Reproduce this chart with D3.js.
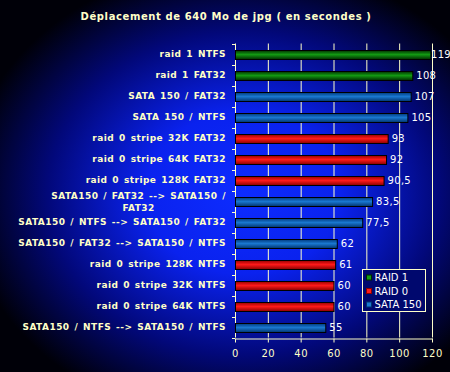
<!DOCTYPE html>
<html>
<head>
<meta charset="utf-8">
<script src="https://cdn.jsdelivr.net/npm/d3@7"></script>
<style>
  html, body { margin: 0; padding: 0; background: #000; }
  svg { display: block; }
  text { font-family: "DejaVu Sans", Verdana, sans-serif; }
</style>
</head>
<body>
<div id="chart"></div>
<script>
// data
const categories = [
  'raid 1 NTFS',
  'raid 1 FAT32',
  'SATA 150 / FAT32',
  'SATA 150 / NTFS',
  'raid 0 stripe 32K FAT32',
  'raid 0 stripe 64K FAT32',
  'raid 0 stripe 128K FAT32',
  'SATA150 / FAT32 --> SATA150 / FAT32',
  'SATA150 / NTFS --> SATA150 / FAT32',
  'SATA150 / FAT32 --> SATA150 / NTFS',
  'raid 0 stripe 128K NTFS',
  'raid 0 stripe 32K NTFS',
  'raid 0 stripe 64K NTFS',
  'SATA150 / NTFS --> SATA150 / NTFS'
];
const values = [119, 108, 107, 105, 93, 92, 90.5, 83.5, 77.5, 62, 61, 60, 60, 55];
const groups = ['RAID 1', 'RAID 1', 'SATA 150', 'SATA 150', 'RAID 0', 'RAID 0', 'RAID 0',
  'SATA 150', 'SATA 150', 'SATA 150', 'RAID 0', 'RAID 0', 'RAID 0', 'SATA 150'];
const legendNames = ['RAID 1', 'RAID 0', 'SATA 150'];
const xTicks = [0, 20, 40, 60, 80, 100, 120];

const W = 450, H = 372;
const margin = { top: 43.5, right: 18, bottom: 34.5, left: 235 };
const cream = '#ffffc8';

// two-line label for the one that wraps
const wrapped = { 'SATA150 / FAT32 --> SATA150 / FAT32': ['SATA150 / FAT32 --> SATA150 /', 'FAT32'] };

const colors = {
  'RAID 1': ['#003300', '#139a13', '#002a00'],
  'RAID 0': ['#990000', '#ff1a1a', '#880000'],
  'SATA 150': ['#003a80', '#1a78d0', '#00336e']
};

const svg = d3.select('#chart').append('svg')
  .attr('width', W).attr('height', H);

const defs = svg.append('defs');
const bg = defs.append('radialGradient').attr('id', 'bg')
  .attr('cx', '0.54').attr('cy', '0.52').attr('r', '0.62');
bg.append('stop').attr('offset', '0%').attr('stop-color', '#0d2cff');
bg.append('stop').attr('offset', '35%').attr('stop-color', '#0a22ee');
bg.append('stop').attr('offset', '70%').attr('stop-color', '#02087a');
bg.append('stop').attr('offset', '100%').attr('stop-color', '#000008');

legendNames.forEach((g, i) => {
  const lg = defs.append('linearGradient').attr('id', 'bar' + i)
    .attr('x1', 0).attr('y1', 0).attr('x2', 0).attr('y2', 1);
  lg.append('stop').attr('offset', '0%').attr('stop-color', colors[g][0]);
  lg.append('stop').attr('offset', '45%').attr('stop-color', colors[g][1]);
  lg.append('stop').attr('offset', '100%').attr('stop-color', colors[g][2]);
});

svg.append('rect').attr('width', W).attr('height', H).attr('fill', 'url(#bg)');

// title
svg.append('text')
  .attr('x', W / 2 + 1).attr('y', 20)
  .attr('text-anchor', 'middle')
  .attr('font-size', 10).attr('font-weight', 'bold')
  .attr('letter-spacing', 0.6)
  .attr('fill', cream)
  .text('Déplacement de 640 Mo de jpg ( en secondes )');

const x = d3.scaleLinear().domain([0, 120]).range([margin.left, W - margin.right]);
const y = d3.scaleBand().domain(categories).range([margin.top, H - margin.bottom]).padding(0);

// vertical grid lines
svg.append('g').selectAll('line')
  .data(xTicks.slice(1))
  .enter().append('line')
  .attr('x1', d => x(d) + 0.5).attr('x2', d => x(d) + 0.5)
  .attr('y1', margin.top).attr('y2', H - margin.bottom)
  .attr('stroke', cream).attr('stroke-width', 1);

// x axis
const xAxis = svg.append('g')
  .attr('transform', `translate(0,${Math.round(H - margin.bottom) + 0.5})`)
  .call(d3.axisBottom(x).tickValues(xTicks).tickSize(4).tickSizeOuter(0));
xAxis.select('.domain').attr('stroke', cream);
xAxis.selectAll('.tick line').attr('stroke', cream);
xAxis.selectAll('.tick text')
  .attr('fill', cream).attr('font-size', 10)
  .attr('letter-spacing', 0.5)
  .attr('font-family', '"DejaVu Sans", Verdana, sans-serif')
  .attr('dy', '1.15em');

// y axis line + ticks at band edges
const yEdges = categories.map(c => y(c)).concat([y.range()[1]]);
svg.append('line')
  .attr('x1', margin.left + 0.5).attr('x2', margin.left + 0.5)
  .attr('y1', margin.top).attr('y2', H - margin.bottom)
  .attr('stroke', cream);
svg.append('g').selectAll('line')
  .data(yEdges)
  .enter().append('line')
  .attr('x1', margin.left - 3).attr('x2', margin.left)
  .attr('y1', d => Math.round(d) + 0.5).attr('y2', d => Math.round(d) + 0.5)
  .attr('stroke', cream);

// category labels
const labelX = margin.left - 9;
svg.append('g').selectAll('text')
  .data(categories)
  .enter().append('text')
  .attr('font-size', 9).attr('font-weight', 'bold')
  .attr('letter-spacing', 0.45)
  .attr('word-spacing', 1.3)
  .attr('fill', cream)
  .attr('text-anchor', 'end')
  .attr('x', labelX)
  .attr('y', d => y(d) + y.bandwidth() / 2)
  .attr('dy', '0.35em')
  .each(function (d) {
    const t = d3.select(this);
    if (wrapped[d]) {
      t.attr('dy', null);
      const first = t.append('tspan').attr('x', labelX)
        .attr('y', y(d) + y.bandwidth() / 2 - 2).text(wrapped[d][0]);
      const w1 = first.node().getComputedTextLength();
      const w2 = t.append('tspan').text(wrapped[d][1]);
      const w2len = w2.node().getComputedTextLength();
      w2.attr('x', labelX - w1 / 2 + w2len / 2)
        .attr('y', y(d) + y.bandwidth() / 2 + 10);
    } else {
      t.text(d);
    }
  });

// bars
const barH = 9;
svg.append('g').selectAll('rect')
  .data(categories)
  .enter().append('rect')
  .attr('x', x(0) + 0.5)
  .attr('y', d => Math.round(y(d) + (y.bandwidth() - barH) / 2) + 0.5)
  .attr('width', (d, i) => x(values[i]) - x(0))
  .attr('height', barH)
  .attr('fill', (d, i) => 'url(#bar' + legendNames.indexOf(groups[i]) + ')')
  .attr('stroke', '#000')
  .attr('stroke-width', 1);

// value labels
const fmt = v => String(v).replace('.', ',');
svg.append('g').selectAll('text')
  .data(categories)
  .enter().append('text')
  .attr('x', (d, i) => Math.min(x(values[i]) + 4, 431))
  .attr('y', d => y(d) + y.bandwidth() / 2)
  .attr('dy', '0.35em')
  .attr('font-size', 10)
  .attr('letter-spacing', 0.3)
  .attr('fill', '#ffffff')
  .text((d, i) => fmt(values[i]));

// legend
const legend = svg.append('g').attr('transform', 'translate(362.5,269.5)');
legend.append('rect')
  .attr('width', 63).attr('height', 42)
  .attr('fill', '#00086e')
  .attr('stroke', cream);
legendNames.forEach((g, i) => {
  const row = legend.append('g').attr('transform', `translate(0,${8 + i * 13.5})`);
  row.append('rect')
    .attr('x', 4).attr('y', -2.5).attr('width', 5).attr('height', 5)
    .attr('fill', colors[g][1]).attr('stroke', colors[g][2]);
  row.append('text')
    .attr('x', 12).attr('y', 0).attr('dy', '0.36em')
    .attr('font-size', 10).attr('fill', '#ffffff')
    .text(g);
});
</script>
</body>
</html>
